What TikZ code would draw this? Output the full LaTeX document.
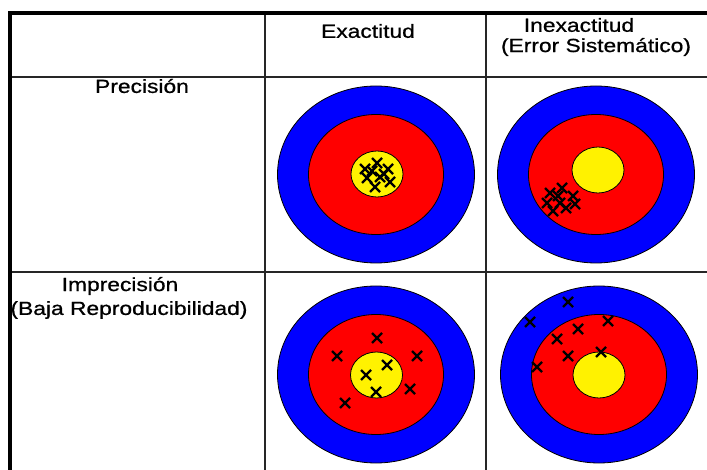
\documentclass[tikz,border=0pt]{standalone}
\usepackage{fontspec}
\setmainfont{Liberation Sans}[FakeStretch=1.2,FakeBold=0.8]

% one target: centre, centre of the yellow spot
\newcommand{\diana}[4]{%
  \draw[anillo,fill=blue] (#1,#2) ellipse [x radius=98.5pt,y radius=88.5pt];
  \draw[anillo,fill=red] (#1,#2) ellipse [x radius=67.5pt,y radius=60pt];
  \draw[anillo,fill=yellow] (#3,#4) ellipse [x radius=26pt,y radius=23pt];
}

\begin{document}
\begin{tikzpicture}[x=1pt,y=-1pt,
    borde/.style={line width=4pt},
    rejilla/.style={line width=1.5pt,black!85},
    anillo/.style={draw=black,line width=0.8pt},
    marca/.style={line width=2.2pt},
    titulo/.style={font=\fontsize{19}{22}\selectfont,inner sep=0pt}]
  \useasboundingbox (0,0) rectangle (707,470);

  % Draw the lines of the table
  \draw[rejilla] (10,77) -- (707,77);
  \draw[rejilla] (10,272) -- (707,272);
  \draw[rejilla] (265,13) -- (265,470);
  \draw[rejilla] (486,13) -- (486,470);
  \draw[borde] (10,470) -- (10,13) -- (707,13);

  % Headings
  \node[titulo] (exact) at (368,31) {Exactitud};
  \node[titulo] (inexact) at (579,25) {Inexactitud};
  \node[titulo] (sistematico) at (596,47) {(Error Sistemático)};
  \node[titulo] (precision) at (142,86) {Precisión};
  \node[titulo] (imprecision) at (120,286) {Imprecisión};
  \node[titulo] (reproduc) at (129,310) {(Baja Reproducibilidad)};

  % Draw the four targets
  \diana{376}{174.5}{377}{174}
  \diana{596}{174.5}{598}{170}
  \diana{376}{374.5}{376.5}{375}
  \diana{599}{374.5}{599}{375}

  % Marks: precise and exact
  \foreach \px/\py in {365/169,377/163,388/169,367/178,380/177,390/182,375/187,372/171,384/174}
    \draw[marca] (\px-5,\py-5) -- (\px+5,\py+5) (\px-5,\py+5) -- (\px+5,\py-5);

  % Marks: precise, not exact
  \foreach \px/\py in {550/193,562/188,573/196,547/203,560/203,575/204,553/211,566/208,558/196}
    \draw[marca] (\px-5,\py-5) -- (\px+5,\py+5) (\px-5,\py+5) -- (\px+5,\py-5);

  % Marks: exact, not precise
  \foreach \px/\py in {377/338,337/356,417/356,387/365,366/375,376/392,410/389,345/403}
    \draw[marca] (\px-5,\py-5) -- (\px+5,\py+5) (\px-5,\py+5) -- (\px+5,\py-5);

  % Marks: neither
  \foreach \px/\py in {568/302,530/322,608/321,578/329,557/339,568/356,601/352,537/367}
    \draw[marca] (\px-5,\py-5) -- (\px+5,\py+5) (\px-5,\py+5) -- (\px+5,\py-5);
\end{tikzpicture}
\end{document}
